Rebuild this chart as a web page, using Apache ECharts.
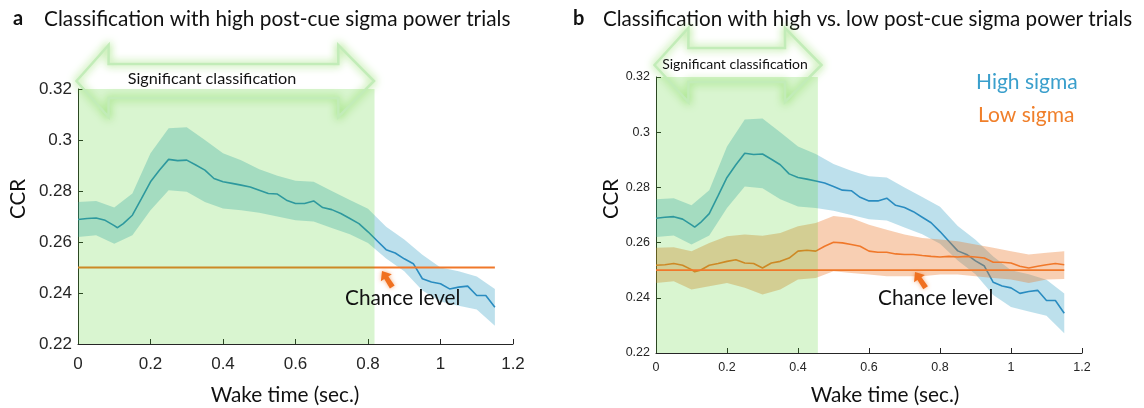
<!DOCTYPE html>
<html>
<head>
<meta charset="utf-8">
<script src="https://cdn.jsdelivr.net/npm/echarts@6/dist/echarts.min.js"></script>
<style>
  html, body { margin: 0; padding: 0; background: #fff; }
  #main { width: 1144px; height: 408px; }
</style>
</head>
<body>
<div id="main"></div>
<script>
// time points (sec.) for the mean curves and for the error bands
var timeLine = [0, 0.025, 0.05, 0.075, 0.1, 0.109, 0.125, 0.15, 0.175, 0.2, 0.225, 0.25, 0.275, 0.3, 0.325, 0.35, 0.375, 0.4, 0.425, 0.45, 0.475, 0.5, 0.525, 0.55, 0.575, 0.6, 0.625, 0.65, 0.675, 0.7, 0.725, 0.75, 0.775, 0.8, 0.825, 0.85, 0.875, 0.9, 0.925, 0.95, 0.975, 1.0, 1.025, 1.05, 1.075, 1.1, 1.125, 1.15];
var highMean = [0.2688, 0.2692, 0.2694, 0.2685, 0.2664, 0.2656, 0.2672, 0.2705, 0.2770, 0.2836, 0.2882, 0.2924, 0.2919, 0.2921, 0.2902, 0.2882, 0.2849, 0.2836, 0.2830, 0.2823, 0.2816, 0.2803, 0.2790, 0.2788, 0.2764, 0.2751, 0.2751, 0.2761, 0.2735, 0.2727, 0.2712, 0.2692, 0.2672, 0.2640, 0.2605, 0.2570, 0.2557, 0.2534, 0.2515, 0.2456, 0.2443, 0.2436, 0.2416, 0.2423, 0.2427, 0.2390, 0.2390, 0.2344];
var lowMean = [0.2518, 0.2520, 0.2524, 0.2518, 0.2502, 0.2494, 0.2500, 0.2518, 0.2524, 0.2532, 0.2538, 0.2526, 0.2524, 0.2508, 0.2526, 0.2532, 0.2544, 0.2569, 0.2572, 0.2569, 0.2587, 0.2601, 0.2599, 0.2593, 0.2587, 0.2569, 0.2565, 0.2565, 0.2559, 0.2557, 0.2557, 0.2553, 0.2550, 0.2548, 0.2550, 0.2548, 0.2550, 0.2548, 0.2544, 0.2529, 0.2529, 0.2526, 0.2514, 0.2508, 0.2514, 0.2520, 0.2524, 0.2520];

var timeBand = [0, 0.05, 0.1, 0.15, 0.2, 0.25, 0.3, 0.35, 0.4, 0.45, 0.5, 0.55, 0.6, 0.65, 0.7, 0.75, 0.8, 0.85, 0.9, 0.95, 1.0, 1.05, 1.1, 1.15];
var highUpper = [0.2757, 0.2761, 0.2735, 0.2790, 0.2948, 0.3046, 0.3050, 0.3000, 0.2948, 0.2921, 0.2885, 0.2860, 0.2840, 0.2836, 0.2800, 0.2765, 0.2730, 0.2660, 0.2610, 0.2550, 0.2500, 0.2485, 0.2465, 0.2416];
var highLower = [0.2620, 0.2626, 0.2593, 0.2626, 0.2725, 0.2803, 0.2797, 0.2757, 0.2731, 0.2725, 0.2715, 0.2700, 0.2685, 0.2680, 0.2655, 0.2630, 0.2596, 0.2535, 0.2485, 0.2410, 0.2367, 0.2350, 0.2335, 0.2272];
var lowUpper = [0.2581, 0.2583, 0.2569, 0.2599, 0.2623, 0.2629, 0.2625, 0.2635, 0.2659, 0.2671, 0.2696, 0.2689, 0.2665, 0.2647, 0.2629, 0.2617, 0.2611, 0.2605, 0.2593, 0.2581, 0.2569, 0.2557, 0.2563, 0.2569];
var lowLower = [0.2454, 0.2460, 0.2430, 0.2442, 0.2454, 0.2436, 0.2412, 0.2430, 0.2466, 0.2472, 0.2496, 0.2490, 0.2484, 0.2478, 0.2478, 0.2478, 0.2484, 0.2484, 0.2478, 0.2472, 0.2466, 0.2454, 0.2466, 0.2468];

var chanceLevel = 0.25;
var chanceSpan = [0, 1.15];
var sigEndA = 0.818;  // end of significant classification, panel a
var sigEndB = 0.456;  // panel b

var xTicks = ['0', '0.2', '0.4', '0.6', '0.8', '1', '1.2'];
var yTicks = ['0.22', '0.24', '0.26', '0.28', '0.3', '0.32'];

var blueLine = '#2a8cc0';
var blueBand = 'rgba(38,152,192,0.3)';
var orangeLine = '#f0782a';
var orangeBand = 'rgba(235,118,38,0.35)';
var sigShade = 'rgba(65,205,20,0.2)';
var axisColor = '#262626';
var bigFont = 'Lato';

var chart = echarts.init(document.getElementById('main'));

function pairs(xs, ys) {
  return xs.map(function (x, i) { return [x, ys[i]]; });
}

function bandSeries(idx, upper, lower, color, z) {
  var rows = timeBand.map(function (t, i) { return [t, lower[i], upper[i]]; });
  return {
    type: 'custom',
    xAxisIndex: idx, yAxisIndex: idx,
    z: z, silent: true,
    encode: { x: 0, y: [1, 2] },
    data: rows,
    renderItem: function (params, api) {
      if (params.dataIndex !== 0) return;
      var pts = [];
      rows.forEach(function (r) { pts.push(api.coord([r[0], r[2]])); });
      for (var i = rows.length - 1; i >= 0; i--) pts.push(api.coord([rows[i][0], rows[i][1]]));
      return { type: 'polygon', shape: { points: pts }, style: { fill: color } };
    }
  };
}

function lineSeries(idx, ys, color, z) {
  return {
    type: 'line', xAxisIndex: idx, yAxisIndex: idx, z: z,
    data: pairs(timeLine, ys), showSymbol: false, silent: true,
    lineStyle: { color: color, width: 1.6 }
  };
}

function chanceSeries(idx, z) {
  return {
    type: 'line', xAxisIndex: idx, yAxisIndex: idx, z: z,
    data: chanceSpan.map(function (t) { return [t, chanceLevel]; }),
    showSymbol: false, silent: true,
    lineStyle: { color: orangeLine, width: 1.8 }
  };
}

// translucent green block laid over the curves
function shadeSeries(idx, end, z) {
  return {
    type: 'custom', xAxisIndex: idx, yAxisIndex: idx, z: z, silent: true,
    data: [[0, 0.22, end, 0.32]],
    encode: { x: [0, 2], y: [1, 3] },
    renderItem: function (params, api) {
      var p0 = api.coord([api.value(0), api.value(3)]);
      var p1 = api.coord([api.value(2), api.value(1)]);
      return { type: 'rect', shape: { x: p0[0], y: p0[1], width: p1[0] - p0[0], height: p1[1] - p0[1] },
        style: { fill: sigShade } };
    }
  };
}

function xAxis(idx, size, margin) {
  return {
    type: 'value', gridIndex: idx, min: 0, max: 1.2, interval: 0.2,
    axisLine: { lineStyle: { color: axisColor } },
    axisTick: { inside: true, length: 5, lineStyle: { color: axisColor } },
    axisLabel: { fontFamily: 'Liberation Sans', fontSize: size, color: axisColor, margin: margin,
      formatter: function (v) { return xTicks[Math.round(v / 0.2)]; } },
    splitLine: { show: false }
  };
}

function yAxis(idx, size) {
  return {
    type: 'value', gridIndex: idx, min: 0.22, max: 0.32, interval: 0.02,
    axisLine: { show: true, lineStyle: { color: axisColor } },
    axisTick: { show: true, inside: true, length: 5, lineStyle: { color: axisColor } },
    axisLabel: { fontFamily: 'Liberation Sans', fontSize: size, color: axisColor, margin: 6,
      formatter: function (v) { return yTicks[Math.round((v - 0.22) / 0.02)]; } },
    splitLine: { show: false }
  };
}

// double arrow outline, centred on cy
function doubleArrow(x0, x1, neck0, neck1, cy, headH, shaftH) {
  return {
    type: 'polygon', z: 50,
    shape: { points: [
      [x0, cy], [neck0, cy - headH], [neck0, cy - shaftH], [neck1, cy - shaftH], [neck1, cy - headH],
      [x1, cy], [neck1, cy + headH], [neck1, cy + shaftH], [neck0, cy + shaftH], [neck0, cy + headH]
    ] },
    style: { fill: 'none', stroke: '#c2ecb8', lineWidth: 2.5,
      shadowColor: 'rgba(120,215,70,0.95)', shadowBlur: 8 }
  };
}

function smallArrow(x, y, ang) {
  return {
    type: 'group', x: x, y: y, rotation: ang, z: 50,
    children: [
      { type: 'polygon', shape: { points: [[0, 0], [8, -6.5], [8, -2.4], [19, -2.8], [19, 2.8], [8, 2.4], [8, 6.5]] },
        style: { fill: '#f07020', shadowColor: 'rgba(240,120,40,0.6)', shadowBlur: 4 } }
    ]
  };
}

function label(text, x, y, size, fill, rot) {
  return { type: 'text', z: 51, x: x, y: y, rotation: rot || 0,
    style: { text: text, font: size + 'px ' + bigFont, fill: fill, textAlign: 'center', textVerticalAlign: 'middle' } };
}

var option = {
  animation: false,
  backgroundColor: '#fff',
  grid: [
    { left: 78, right: 631, top: 89, bottom: 64 },
    { left: 656, right: 62, top: 77, bottom: 55 }
  ],
  xAxis: [xAxis(0, 17, 12), xAxis(1, 12.5, 8)],
  yAxis: [yAxis(0, 17), yAxis(1, 12.5)],
  series: [
    bandSeries(0, highUpper, highLower, blueBand, 1),
    lineSeries(0, highMean, blueLine, 2),
    chanceSeries(0, 3),
    shadeSeries(0, sigEndA, 5),

    bandSeries(1, highUpper, highLower, blueBand, 1),
    lineSeries(1, highMean, blueLine, 2),
    bandSeries(1, lowUpper, lowLower, orangeBand, 3),
    lineSeries(1, lowMean, orangeLine, 4),
    shadeSeries(1, sigEndB, 5),
    chanceSeries(1, 6)
  ],
  graphic: [
    { type: 'text', left: 13, top: 9, style: { text: 'a', font: 'bold 20px ' + bigFont, fill: '#111' } },
    { type: 'text', left: 44, top: 9, style: { text: 'Classification with high post-cue sigma power trials', font: '20.8px ' + bigFont, fill: '#111' } },
    { type: 'text', left: 573, top: 9, style: { text: 'b', font: 'bold 20px ' + bigFont, fill: '#111' } },
    { type: 'text', left: 603, top: 9, style: { text: 'Classification with high vs. low post-cue sigma power trials', font: '20.6px ' + bigFont, fill: '#111' } },

    doubleArrow(76.5, 374, 108.6, 338.3, 81, 36, 17),
    label('Significant classification', 212, 79, 16.2, '#111'),
    doubleArrow(654.5, 821.5, 688.4, 785, 65, 37, 17),
    label('Significant classification', 735, 64, 14, '#111'),

    smallArrow(382, 271, -1.0),
    { type: 'text', z: 51, x: 345, y: 298, style: { text: 'Chance level', font: '20.8px ' + bigFont, fill: '#111', textVerticalAlign: 'middle' } },
    smallArrow(915, 272, -0.98),
    { type: 'text', z: 51, x: 878, y: 298, style: { text: 'Chance level', font: '20.8px ' + bigFont, fill: '#111', textVerticalAlign: 'middle' } },

    { type: 'text', z: 51, x: 976, y: 82, style: { text: 'High sigma', font: '21px ' + bigFont, fill: '#3a9fcc', textVerticalAlign: 'middle' } },
    { type: 'text', z: 51, x: 978, y: 115, style: { text: 'Low sigma', font: '21px ' + bigFont, fill: '#f07f2a', textVerticalAlign: 'middle' } },

    label('CCR', 18.5, 199, 20.5, '#111', Math.PI / 2),
    label('CCR', 611, 199, 20.5, '#111', Math.PI / 2),
    label('Wake time (sec.)', 285, 395, 20.8, '#111'),
    label('Wake time (sec.)', 885, 395, 20.8, '#111')
  ]
};

chart.setOption(option);
</script>
</body>
</html>
